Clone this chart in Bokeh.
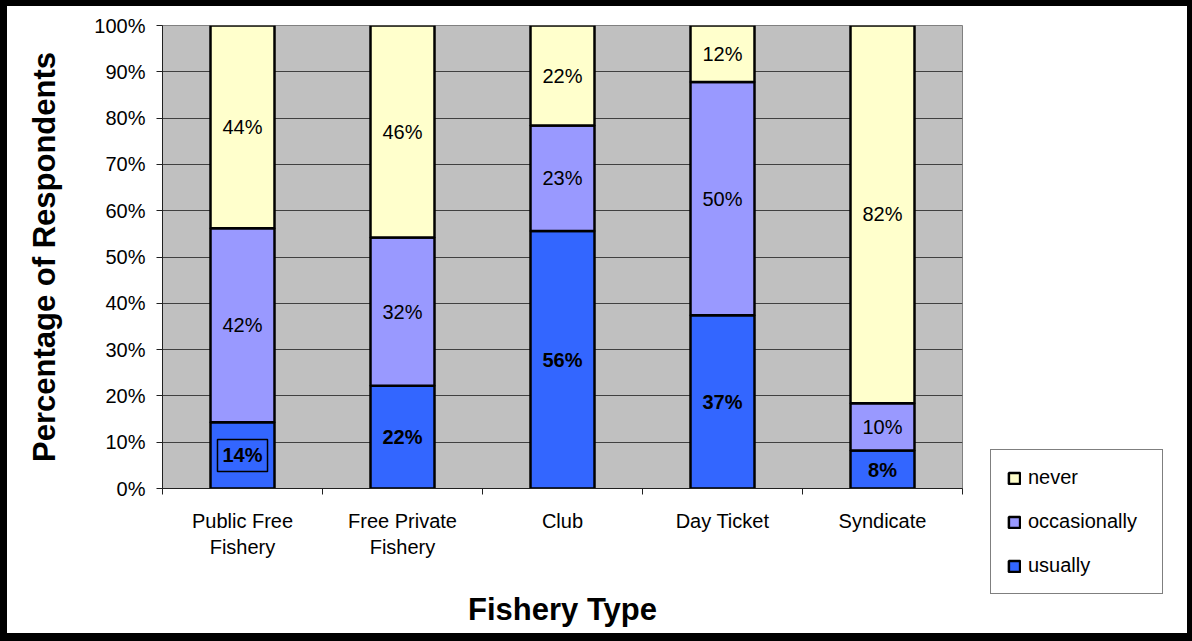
from bokeh.plotting import figure
from bokeh.layouts import row, column
from bokeh.models import ColumnDataSource, Range1d, FixedTicker, Legend, LegendItem
from bokeh.core.properties import value
from bokeh.embed import file_html
from bokeh.resources import INLINE

# ---- data ----
categories = ["Public Free Fishery", "Free Private Fishery", "Club", "Day Ticket", "Syndicate"]
tick_labels = ["Public Free\nFishery", "Free Private\nFishery", "Club", "Day Ticket", "Syndicate"]
usually = [14.3, 22.2, 55.6, 37.4, 8.2]
occasionally = [41.9, 32.0, 22.8, 50.4, 10.2]
never = [43.8, 45.8, 21.6, 12.2, 81.6]
series_names = ["usually", "occasionally", "never"]
series_colors = ["#3366FF", "#9999FF", "#FFFFCC"]
y_ticks = [0, 10, 20, 30, 40, 50, 60, 70, 80, 90, 100]
y_tick_labels = ["0%", "10%", "20%", "30%", "40%", "50%", "60%", "70%", "80%", "90%", "100%"]
boxed_usually_label = [True, False, False, False, False]

FONT = "Liberation Sans"
W_MAIN, W_LEG, H = 975, 217, 641

x = [i + 0.5 for i in range(len(categories))]
src = ColumnDataSource(dict(
    x=x,
    usually=usually,
    occasionally=occasionally,
    never=never,
    y_u=[u / 2 for u in usually],
    y_o=[u + o / 2 for u, o in zip(usually, occasionally)],
    y_n=[u + o + n / 2 for u, o, n in zip(usually, occasionally, never)],
    lab_u=[f"{round(v)}%" for v in usually],
    lab_o=[f"{round(v)}%" for v in occasionally],
    lab_n=[f"{round(v)}%" for v in never],
    border_u=["black" if b else None for b in boxed_usually_label],
))

p = figure(width=W_MAIN, height=H,
           x_range=Range1d(0, len(categories)), y_range=Range1d(0, 100),
           output_backend="svg", toolbar_location=None,
           background_fill_color="#C0C0C0", border_fill_color="white",
           min_border_left=155, min_border_right=W_MAIN - 955,
           min_border_top=19, min_border_bottom=159)
p.styles = {"border-style": "solid", "border-color": "black",
            "border-width": "6px 0px 8px 7px"}
p.outline_line_color = "#808080"
p.outline_line_width = 1

renderers = p.vbar_stack(series_names, x="x", width=0.4, source=src,
                         fill_color=series_colors, line_color="black", line_width=2.5)

# labels
p.text(x="x", y="y_u", text="lab_u", source=src, text_align="center", text_baseline="middle",
       text_font=value(FONT), text_font_size="20px", text_font_style="bold", text_color="black",
       border_line_color="border_u", border_line_width=1.5, padding=5)
p.text(x="x", y="y_o", text="lab_o", source=src, text_align="center", text_baseline="middle",
       text_font=value(FONT), text_font_size="20px", text_color="black")
p.text(x="x", y="y_n", text="lab_n", source=src, text_align="center", text_baseline="middle",
       text_font=value(FONT), text_font_size="20px", text_color="black")

# grid
p.xgrid.grid_line_color = None
p.ygrid.grid_line_color = "#404040"
p.ygrid.grid_line_width = 1
p.ygrid.ticker = FixedTicker(ticks=y_ticks)

# y axis
p.yaxis.ticker = FixedTicker(ticks=y_ticks)
p.yaxis.major_label_overrides = dict(zip(y_ticks, y_tick_labels))
p.yaxis.minor_tick_line_color = None
p.yaxis.major_tick_out = 6
p.yaxis.major_tick_in = 0
p.yaxis.major_tick_line_color = "#202020"
p.yaxis.axis_line_color = "#202020"
p.yaxis.major_label_text_font = FONT
p.yaxis.major_label_text_font_size = "20px"
p.yaxis.major_label_text_color = "black"
p.yaxis.major_label_standoff = 11
p.yaxis.axis_label = "Percentage of Respondents"
p.yaxis.axis_label_text_font = FONT
p.yaxis.axis_label_text_font_size = "31px"
p.yaxis.axis_label_text_font_style = "bold"
p.yaxis.axis_label_text_color = "black"
p.yaxis.axis_label_standoff = 29

# x axis
p.xaxis.ticker = FixedTicker(ticks=x, minor_ticks=list(range(len(categories) + 1)))
p.xaxis.major_label_overrides = dict(zip(x, tick_labels))
p.xaxis.major_tick_line_color = None
p.xaxis.major_tick_out = 6
p.xaxis.major_tick_in = 0
p.xaxis.minor_tick_line_color = "#202020"
p.xaxis.minor_tick_out = 6
p.xaxis.minor_tick_in = 0
p.xaxis.axis_line_color = "#202020"
p.xaxis.major_label_text_font = FONT
p.xaxis.major_label_text_font_size = "20px"
p.xaxis.major_label_text_color = "black"
p.xaxis.major_label_standoff = 15
p.xaxis.axis_label = "Fishery Type"
p.xaxis.axis_label_text_font = FONT
p.xaxis.axis_label_text_font_size = "31px"
p.xaxis.axis_label_text_font_style = "bold"
p.xaxis.axis_label_text_color = "black"
p.xaxis.axis_label_standoff = 31

# legend panel (top to bottom: never, occasionally, usually)
pl = figure(width=W_LEG, height=H, output_backend="svg", toolbar_location=None,
            x_range=Range1d(-10, -9), y_range=Range1d(0, 100),
            min_border=0, border_fill_color="white", background_fill_color="white")
pl.axis.visible = False
pl.grid.visible = False
pl.outline_line_color = None
pl.styles = {"border-style": "solid", "border-color": "black",
             "border-width": "6px 5px 8px 0px"}
key_renderers = pl.vbar_stack(series_names, x="x", width=0.4, source=src,
                              fill_color=series_colors, line_color="black", line_width=2.5)
items = [LegendItem(label=name, renderers=[r]) for name, r in zip(series_names, key_renderers)][::-1]
legend = Legend(items=items, location=(15, 53))
legend.border_line_color = "black"
legend.border_line_width = 1
legend.background_fill_color = "white"
legend.background_fill_alpha = 1
legend.label_text_font = FONT
legend.label_text_font_size = "20px"
legend.label_text_color = "black"
legend.glyph_width = 14
legend.glyph_height = 14
legend.label_height = 20
legend.label_width = 118
legend.spacing = 21
legend.padding = 16
legend.label_standoff = 7
legend.margin = 0
pl.add_layout(legend, "center")

layout = row(p, column(pl, spacing=0), spacing=0)

open("out.html", "w").write(file_html(layout, INLINE))
